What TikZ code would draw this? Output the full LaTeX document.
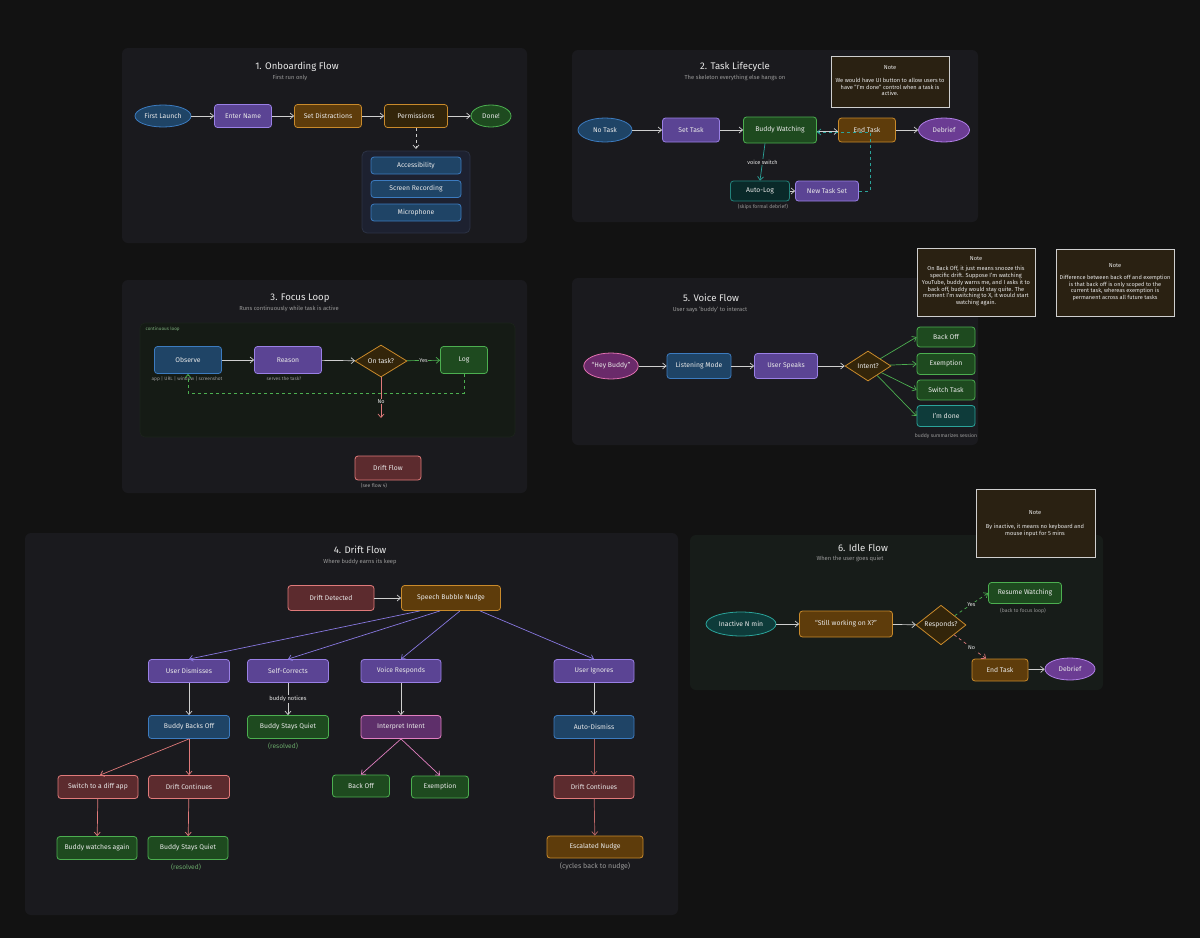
\documentclass[tikz,border=0pt]{standalone}
\usepackage{fontspec}
\setmainfont{Fira Sans}
\usetikzlibrary{arrows.meta,shapes.geometric,calc}
\definecolor{bg}{HTML}{121212}
\definecolor{panel}{HTML}{1A1A1E}
\definecolor{panelg}{HTML}{171C19}
\definecolor{loopf}{HTML}{151B15}
\definecolor{loops}{HTML}{1C241C}
\definecolor{grpf}{HTML}{1D2130}
\definecolor{grps}{HTML}{2C3345}
\definecolor{bluef}{HTML}{1F4466}
\definecolor{blues}{HTML}{3C7BBF}
\definecolor{purf}{HTML}{5B4494}
\definecolor{purs}{HTML}{9A80E6}
\definecolor{oraf}{HTML}{5E3C0B}
\definecolor{oras}{HTML}{C98A2B}
\definecolor{doraf}{HTML}{33250A}
\definecolor{grnf}{HTML}{1E4A1F}
\definecolor{grns}{HTML}{4CAF50}
\definecolor{redf}{HTML}{5C2B2E}
\definecolor{reds}{HTML}{E07A7A}
\definecolor{tealf}{HTML}{0E3B3A}
\definecolor{teals}{HTML}{2BA39A}
\definecolor{pinkf}{HTML}{5E2F6A}
\definecolor{pinks}{HTML}{E07FC0}
\definecolor{magf}{HTML}{6A2A6A}
\definecolor{mags}{HTML}{E070B0}
\definecolor{debf}{HTML}{6B3C93}
\definecolor{debs}{HTML}{B07FE6}
\definecolor{notef}{HTML}{2A2112}
\definecolor{notes}{HTML}{CFCFCF}
\definecolor{txt}{HTML}{E8E8E8}
\definecolor{subc}{HTML}{9A9A9A}
\definecolor{arw}{HTML}{CFCFCF}
\definecolor{arpur}{HTML}{8878E0}
\definecolor{argrn}{HTML}{4CAF50}
\definecolor{arred}{HTML}{E07A7A}
\definecolor{artea}{HTML}{2BA39A}
\definecolor{resc}{HTML}{6AAA6A}
\tikzset{
  nd/.style={line width=0.8pt, text=txt, font=\fontsize{6.8}{7.8}\selectfont, inner sep=1pt, align=center},
  rect/.style={nd, rectangle, rounded corners=3pt},
  ell/.style={nd, ellipse, inner sep=0pt},
  dia/.style={nd, diamond, inner sep=0pt, fill=doraf, draw=oras},
  wh/.style 2 args={minimum width=#1pt, minimum height=#2pt},
  bl/.style={rect, fill=bluef, draw=blues},
  pu/.style={rect, fill=purf, draw=purs},
  orb/.style={rect, fill=oraf, draw=oras},
  dorb/.style={rect, fill=doraf, draw=oras},
  gr/.style={rect, fill=grnf, draw=grns},
  rd/.style={rect, fill=redf, draw=reds},
  te/.style={rect, fill=tealf, draw=teals},
  pk/.style={rect, fill=pinkf, draw=pinks},
  ttl/.style={text=txt, font=\fontsize{9.6}{10.6}\selectfont, inner sep=0pt},
  sub/.style={text=subc, font=\fontsize{5.8}{6.8}\selectfont, inner sep=0pt},
  lbl/.style={text=subc, font=\fontsize{5.1}{6}\selectfont, inner sep=0.5pt},
  elbl/.style={text=txt, font=\fontsize{5.5}{6}\selectfont, inner sep=0.8pt},
  notebox/.style={fill=notef, draw=notes, line width=0.9pt},
  notetxt/.style={text=txt, font=\fontsize{5.7}{6.8}\selectfont, align=center, inner sep=0pt},
  pnl/.style={fill=panel, rounded corners=6pt},
  tip/.style={-{Straight Barb[length=3.5pt,width=6pt]}},
  ar/.style={tip, line width=0.7pt, draw=arw},
  arp/.style={tip, line width=0.7pt, draw=arpur},
  arg/.style={tip, line width=0.7pt, draw=argrn},
  arr/.style={tip, line width=0.7pt, draw=arred},
  art/.style={tip, line width=0.7pt, draw=artea},
}
\begin{document}
\begin{tikzpicture}[x=1pt,y=-1pt]
\fill[bg] (0,0) rectangle (1200,938);
\useasboundingbox (0,0) rectangle (1200,938);

% ---------- panels ----------
\fill[pnl] (122,48) rectangle (527,243);
\fill[pnl] (572,50) rectangle (978,222);
\fill[pnl] (122,280) rectangle (527,493);
\fill[pnl] (572,278) rectangle (978,445);
\fill[pnl] (25,533) rectangle (678,915);
\fill[pnl, fill=panelg] (690,535) rectangle (1103,690);

% ---------- 1. Onboarding ----------
\node[ttl] (t1) at (297,67) {1. Onboarding Flow};
\node[sub] (s1) at (290,78) {First run only};
\node[ell, fill=bluef, draw=blues, wh={56}{22}] (fl) at (163,116) {First Launch};
\node[pu, wh={57}{23}] (en) at (243,116) {Enter Name};
\node[orb, wh={67}{23}] (sd) at (328,116) {Set Distractions};
\node[dorb, wh={63}{23}] (pm) at (416,116) {Permissions};
\node[ell, fill=grnf, draw=grns, wh={40}{22}] (dn) at (491,116) {Done!};
\draw[ar] (fl) -- (en);
\draw[ar] (en) -- (sd);
\draw[ar] (sd) -- (pm);
\draw[ar] (pm) -- (dn);
\draw[fill=grpf, draw=grps, rounded corners=5pt, line width=0.8pt] (362,151) rectangle (470,233);
\coordinate (pmg) at (416,149);
\draw[ar, dashed] (pm.south) -- (pmg);
\node[bl, wh={90}{17}] (acc) at (416,165.5) {Accessibility};
\node[bl, wh={90}{17}] (scr) at (416,189) {Screen Recording};
\node[bl, wh={90}{17}] (mic) at (416,212.5) {Microphone};

% ---------- 2. Task Lifecycle ----------
\node[ttl] (t2) at (735,67) {2. Task Lifecycle};
\node[sub] (s2) at (735,78) {The skeleton everything else hangs on};
\draw[notebox] (831,56) rectangle (949,107);
\node[notetxt] (n2h) at (890,68) {Note};
\node[notetxt] (n2t) at (890,87) {We would have UI button to allow users to\\have "I'm done" control when a task is\\active.};
\node[ell, fill=bluef, draw=blues, wh={54}{24}] (nt) at (605,130) {No Task};
\node[pu, wh={57}{24}] (st) at (691,130) {Set Task};
\node[gr, wh={73}{26}] (bw) at (780,130) {Buddy Watching};
\node[orb, wh={57}{24}] (et) at (867,130) {End Task};
\node[ell, fill=debf, draw=debs, wh={51}{24}] (db) at (944,130) {Debrief};
\node[rect, fill=tealf!70!black, draw=teals!80!black, wh={59}{20}] (al) at (760,191) {Auto-Log};
\node[pu, wh={63}{20}] (ns) at (827,191) {New Task Set};
\node[lbl] (sk) at (763,207) {(skips formal debrief)};
\draw[ar] (nt) -- (st);
\draw[ar] (st) -- (bw);
\draw[ar] ([yshift=-1.5pt]bw.east) -- ([yshift=-1.5pt]et.west);
\draw[ar] (et) -- (db);
\draw[art] ([xshift=-15pt]bw.south) -- (al.north) node[midway, fill=panel, elbl] (vs) {voice switch};
\draw[ar] (al) -- (ns);
\coordinate (c2) at (870,132);
\draw[art, dashed] (ns.east) -| (c2) -- (c2 -| bw.east);

% ---------- 3. Focus Loop ----------
\node[ttl] (t3) at (300,298) {3. Focus Loop};
\node[sub] (s3) at (289,309) {Runs continuously while task is active};
\draw[fill=loopf, draw=loops, rounded corners=5pt, line width=0.6pt] (140,323) rectangle (515,437);
\node[lbl, anchor=west, text=subc!80!green, font=\fontsize{4.6}{5}\selectfont] (cl) at (145,329) {continuous loop};
\node[bl, wh={67}{27}] (ob) at (188,360) {Observe};
\node[pu, wh={67}{27}] (rs) at (288,360) {Reason};
\node[dia, wh={52}{32}] (ot) at (381,361) {On task?};
\node[gr, wh={47}{27}] (lg) at (464,360) {Log};
\node[lbl, font=\fontsize{4.8}{5.5}\selectfont] (obl) at (187,379) {app | URL | window | screenshot};
\node[lbl, font=\fontsize{4.8}{5.5}\selectfont] (rsl) at (284,379) {serves the task?};
\draw[ar] (ob) -- (rs);
\draw[ar] (rs) -- (ot);
\draw[arg] (ot) -- (lg) node[midway, elbl, fill=loopf] (yes3) {Yes};
\coordinate (c3) at (464,393);
\draw[arg, dashed] (lg.south) -- (c3) -| (ob.south);
\coordinate (c3n) at (381,418);
\draw[arr] (ot.south) -- (c3n) node[pos=0.6, elbl, fill=loopf] (no3) {No};
\node[rd, wh={66}{24}] (df) at (388,468) {Drift Flow};
\node[lbl] (dfl) at (374,486) {(see flow 4)};

% ---------- 5. Voice Flow ----------
\node[ttl] (t5) at (711,298) {5. Voice Flow};
\node[sub] (s5) at (710,310) {User says 'buddy' to interact};
\draw[notebox] (917,248) rectangle (1035,316);
\node[notetxt] (n5h) at (976,259) {Note};
\node[notetxt] (n5t) at (976,286) {On Back Off, it just means snooze this\\specific drift. Suppose I'm watching\\YouTube, buddy warns me, and I asks it to\\back off, buddy would stay quite. The\\moment I'm switching to X, it would start\\watching again.};
\draw[notebox] (1056,249) rectangle (1174,316);
\node[notetxt] (n6h) at (1115,266) {Note};
\node[notetxt, font=\fontsize{5.6}{6.8}\selectfont] (n6t) at (1115,288) {Difference between back off and exemption\\is that back off is only scoped to the\\current task, whereas exemption is\\permanent across all future tasks};
\node[ell, fill=magf, draw=mags, wh={52}{26}] (hb) at (611,366) {“Hey Buddy”};
\node[bl, wh={64}{25}] (lm) at (699,366) {Listening Mode};
\node[pu, wh={63}{25}] (us) at (786,366) {User Speaks};
\node[dia, wh={46}{30}] (it) at (868,366) {Intent?};
\node[gr, wh={58}{20}] (bo5) at (946,337) {Back Off};
\node[gr, wh={58}{21}] (ex5) at (946,364) {Exemption};
\node[gr, wh={58}{20}] (sw5) at (946,390) {Switch Task};
\node[te, wh={58}{21}] (id5) at (946,416) {I'm done};
\node[lbl] (bss) at (946,436) {buddy summarizes session};
\draw[ar] (hb) -- (lm);
\draw[ar] (lm) -- (us);
\draw[ar] (us) -- (it);
\draw[arg] (it) -- (bo5.west);
\draw[arg] (it) -- (ex5.west);
\draw[arg] (it) -- (sw5.west);
\draw[arg] (it) -- (id5.west);

% ---------- 4. Drift Flow ----------
\node[ttl] (t4) at (360,550) {4. Drift Flow};
\node[sub] (s4) at (360,562) {Where buddy earns its keep};
\node[rd, wh={86}{25}] (dd) at (331,598) {Drift Detected};
\node[orb, wh={99}{25}] (sb) at (451,598) {Speech Bubble Nudge};
\node[pu, wh={81}{23}] (ud) at (189,671) {User Dismisses};
\node[pu, wh={81}{23}] (sc) at (288,671) {Self-Corrects};
\node[pu, wh={80}{23}] (vr) at (401,671) {Voice Responds};
\node[pu, wh={80}{23}] (ui) at (594,671) {User Ignores};
\node[bl, wh={81}{23}] (bb) at (189,727) {Buddy Backs Off};
\node[gr, wh={81}{23}] (bq1) at (288,727) {Buddy Stays Quiet};
\node[pk, wh={80}{23}] (ii) at (401,727) {Interpret Intent};
\node[bl, wh={80}{23}] (ad) at (594,727) {Auto-Dismiss};
\node[rd, wh={80}{23}] (swd) at (98,787) {Switch to a diff app};
\node[rd, wh={81}{23}] (dc1) at (189,787) {Drift Continues};
\node[gr, wh={57}{22}] (bo4) at (361,786) {Back Off};
\node[gr, wh={57}{22}] (ex4) at (440,787) {Exemption};
\node[rd, wh={80}{23}] (dc2) at (594,787) {Drift Continues};
\node[gr, wh={80}{23}] (bwa) at (97,848) {Buddy watches again};
\node[gr, wh={80}{23}] (bq2) at (188,848) {Buddy Stays Quiet};
\node[orb, wh={96}{22}] (en4) at (595,847) {Escalated Nudge};
\node[lbl, text=resc, font=\fontsize{6.6}{7.5}\selectfont] (r1) at (283,746) {(resolved)};
\node[lbl, text=resc, font=\fontsize{6.6}{7.5}\selectfont] (r2) at (186,867) {(resolved)};
\node[lbl, font=\fontsize{7}{8}\selectfont] (cyc) at (595,866) {(cycles back to nudge)};
\draw[ar] (dd) -- (sb);
\draw[arp] ([xshift=-31pt]sb.south) -- (ud.north);
\draw[arp] ([xshift=-11pt]sb.south) -- (sc.north);
\draw[arp] ([xshift=9pt]sb.south) -- (vr.north);
\draw[arp] ([xshift=29pt]sb.south) -- (ui.north);
\draw[ar] (ud) -- (bb);
\draw[ar] (sc) -- (bq1) node[midway, fill=panel, elbl, font=\fontsize{5.8}{6.5}\selectfont] (bn) {buddy notices};
\draw[ar] (vr) -- (ii);
\draw[ar] (ui) -- (ad);
\draw[arr] (bb.south) -- ([xshift=2pt]swd.north);
\draw[arr] (bb) -- (dc1);
\draw[arr] (swd) -- (bwa);
\draw[arr] (dc1) -- (bq2);
\draw[tip, line width=0.7pt, draw=pinks] (ii.south) -- (bo4.north);
\draw[tip, line width=0.7pt, draw=pinks] (ii.south) -- (ex4.north);
\draw[tip, line width=0.7pt, draw=reds!75!black] (ad) -- (dc2);
\draw[tip, line width=0.7pt, draw=reds!85!black] (dc2) -- (en4);

% ---------- 6. Idle Flow ----------
\draw[notebox] (976,489) rectangle (1095,557);
\node[notetxt] (n7h) at (1035,513) {Note};
\node[notetxt] (n7t) at (1035,530) {By inactive, it means no keyboard and\\mouse input for 5 mins};
\node[ttl] (t6) at (863,548) {6. Idle Flow};
\node[sub] (s6) at (850,559) {When the user goes quiet};
\node[ell, fill=tealf, draw=teals, wh={70}{24}] (in6) at (741,624) {Inactive N min};
\node[orb, wh={93}{26}] (sw6) at (846,624) {“Still working on X?”};
\node[dia, wh={50}{33}] (rp) at (941,625) {Responds?};
\node[gr, wh={73}{21}] (rw) at (1025,593) {Resume Watching};
\node[lbl] (bfl) at (1023,611) {(back to focus loop)};
\node[orb, wh={56}{22}] (et6) at (1000,670) {End Task};
\node[ell, fill=debf, draw=debs, wh={50}{22}] (db6) at (1070,669) {Debrief};
\draw[ar] (in6) -- (sw6);
\draw[ar] (sw6) -- (rp);
\draw[arg, dashed] (rp) -- (rw.west) node[pos=0.5, elbl, fill=panelg] (yes6) {Yes};
\draw[arr, dashed] (rp) -- ([xshift=-14pt]et6.north) node[pos=0.55, elbl, fill=panelg] (no6) {No};
\draw[ar] (et6) -- (db6);
\end{tikzpicture}
\end{document}
